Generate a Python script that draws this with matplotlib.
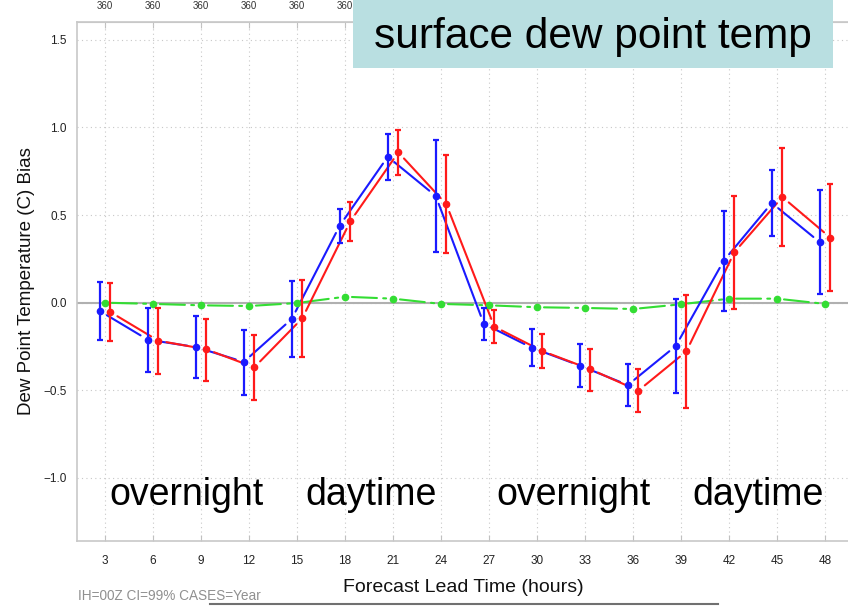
import matplotlib
matplotlib.use("Agg")
import matplotlib.pyplot as plt
from matplotlib.patches import Rectangle
from matplotlib.lines import Line2D
import numpy as np

plt.rcParams['font.family'] = ['Liberation Sans', 'DejaVu Sans']

# ---- data ----
hours = [3, 6, 9, 12, 15, 18, 21, 24, 27, 30, 33, 36, 39, 42, 45, 48]
n_cases = ['360'] * 16

blue_val = [-0.047, -0.211, -0.253, -0.338, -0.093, 0.440, 0.833, 0.609,
            -0.120, -0.257, -0.359, -0.470, -0.247, 0.240, 0.569, 0.345]
blue_lo = [-0.215, -0.398, -0.430, -0.525, -0.308, 0.339, 0.702, 0.289,
           -0.213, -0.361, -0.481, -0.590, -0.517, -0.047, 0.381, 0.050]
blue_hi = [0.116, -0.028, -0.074, -0.156, 0.124, 0.537, 0.963, 0.927,
           -0.028, -0.152, -0.236, -0.348, 0.023, 0.525, 0.757, 0.643]

red_val = [-0.053, -0.217, -0.266, -0.369, -0.089, 0.464, 0.858, 0.562,
           -0.137, -0.276, -0.380, -0.502, -0.278, 0.288, 0.603, 0.371]
red_lo = [-0.219, -0.407, -0.445, -0.555, -0.308, 0.352, 0.729, 0.282,
          -0.228, -0.375, -0.502, -0.624, -0.601, -0.036, 0.325, 0.067]
red_hi = [0.112, -0.032, -0.093, -0.186, 0.130, 0.577, 0.988, 0.841,
          -0.042, -0.181, -0.262, -0.380, 0.046, 0.609, 0.881, 0.676]

green_val = [0.000, -0.007, -0.015, -0.019, -0.002, 0.034, 0.023, -0.007,
             -0.015, -0.026, -0.030, -0.036, -0.009, 0.023, 0.023, -0.007]

x_offset = {'blue': -0.33, 'red': 0.33, 'green': 0.0}
period_labels = ['overnight', 'daytime', 'overnight', 'daytime']
period_centers = [8.1, 19.6, 32.3, 43.8]

BLUE = '#1a1aff'
RED = '#ff1a1a'
GREEN = '#33dd33'

fig = plt.figure(figsize=(8.48, 6.06), dpi=100)
ax = fig.add_axes([0.0904, 0.1073, 0.9096 + 0.003, 0.8564])

ax.set_xlim(1.23, 49.59)
ax.set_ylim(-1.36, 1.602)

# zero line
ax.axhline(0, color='#b0b0b0', lw=1.5, zorder=1)

def shrunk_line(xs, ys, color, ls='-', lw=1.5, shrink=6):
    for i in range(len(xs) - 1):
        ax.annotate('', xy=(xs[i + 1], ys[i + 1]), xytext=(xs[i], ys[i]),
                    xycoords='data', textcoords='data',
                    arrowprops=dict(arrowstyle='-', color=color, lw=lw,
                                    linestyle=ls, shrinkA=shrink, shrinkB=shrink),
                    zorder=3)

hx = np.array(hours, dtype=float)

# green series
gx = hx + x_offset['green']
shrunk_line(gx, green_val, GREEN, ls=(0, (12, 3)), lw=1.5, shrink=5)
ax.plot(gx, green_val, 'o', color=GREEN, ms=4.5, zorder=4)

for color, vals, lo, hi, key in [(BLUE, blue_val, blue_lo, blue_hi, 'blue'),
                                  (RED, red_val, red_lo, red_hi, 'red')]:
    xs = hx + x_offset[key]
    v = np.array(vals)
    yerr = np.vstack([v - np.array(lo), np.array(hi) - v])
    ax.errorbar(xs, v, yerr=yerr, fmt='o', color=color, ms=4.5, elinewidth=1.6,
                capsize=2.3, capthick=1.6, zorder=5)
    shrunk_line(xs, v, color)

# grid and ticks
ax.set_xticks(hours)
ax.set_xticklabels([str(h) for h in hours])
ax.set_yticks([-1.0, -0.5, 0.0, 0.5, 1.0, 1.5])
ax.set_yticklabels(['\u22121.0', '\u22120.5', '0.0', '0.5', '1.0', '1.5'])
ax.grid(True, linestyle=(0, (1, 3)), color='#c8c8c8', lw=0.8)
ax.set_axisbelow(True)
ax.tick_params(axis='x', direction='in', length=4, color='#c0c0c0',
               labelsize=8.5, pad=10, labelcolor='#222222')
ax.tick_params(axis='y', length=0, labelsize=8.5, pad=7, labelcolor='#222222')
for s in ax.spines.values():
    s.set_color('#c8c8c8')
    s.set_linewidth(1.2)

sec = ax.secondary_xaxis('top')
sec.set_xticks(hours)
sec.set_xticklabels(n_cases)
sec.tick_params(direction='in', length=4, color='#c0c0c0', labelsize=7,
                pad=8, labelcolor='#333333')
sec.spines['top'].set_color('#c8c8c8')

ax.set_xlabel('Forecast Lead Time (hours)', fontsize=14, labelpad=9, color='#111111')
ax.set_ylabel('Dew Point Temperature (C) Bias', fontsize=13.5, labelpad=6, color='#111111')

# period annotations
for lbl, xc in zip(period_labels, period_centers):
    ax.text(xc, -1.155, lbl, fontsize=27, ha='center', va='baseline', color='black', zorder=6)

# footer
fig.text(78 / 848, 1 - 600 / 606, 'IH=00Z CI=99% CASES=Year', fontsize=9.8,
         color='#909090', ha='left', va='baseline')
fig.add_artist(Line2D([210 / 848, 718 / 848], [1 - 604 / 606, 1 - 604 / 606],
                      color='#707070', lw=1.5, transform=fig.transFigure))

# title box
box = Rectangle((353 / 848, 1 - 68 / 606), (833 - 353) / 848, 68 / 606 + 0.01,
                transform=fig.transFigure, facecolor='#b9dfe1', edgecolor='none',
                zorder=10)
fig.add_artist(box)
fig.text((353 + 833) / 2 / 848, 1 - 48 / 606, 'surface dew point temp', fontsize=30.5,
         ha='center', va='baseline', color='black', zorder=11)

fig.savefig('out.png', dpi=100)
